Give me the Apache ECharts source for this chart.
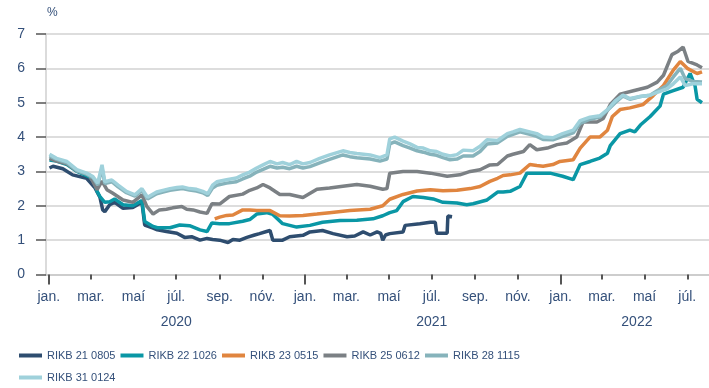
<!DOCTYPE html>
<html>
<head>
<meta charset="utf-8">
<script src="https://cdn.jsdelivr.net/npm/echarts@6/dist/echarts.min.js"></script>
<style>
  html, body { margin: 0; padding: 0; background: #fff; }
  #chart { width: 709px; height: 388px; }
</style>
</head>
<body>
<div id="chart"></div>
<script>
// Ávöxtunarkrafa óverðtryggðra ríkisbréfa (%), jan. 2020 – júl. 2022
const seriesNames = ['RIKB 21 0805', 'RIKB 22 1026', 'RIKB 23 0515', 'RIKB 25 0612', 'RIKB 28 1115', 'RIKB 31 0124'];
const seriesColors = ['#2e4d6f', '#0a97a5', '#e0853f', '#7b8084', '#86b3bb', '#9fd1db'];

const rikb21 = [
  ['2020-01-02', 3.1], ['2020-01-07', 3.15], ['2020-01-21', 3.08], ['2020-02-04', 2.9], ['2020-02-24', 2.8],
  ['2020-03-07', 2.52], ['2020-03-14', 2.25], ['2020-03-18', 1.88], ['2020-03-21', 1.83], ['2020-03-28', 2.03],
  ['2020-04-04', 2.1], ['2020-04-16', 1.93], ['2020-04-30', 1.95], ['2020-05-13', 2.1], ['2020-05-17', 1.44],
  ['2020-05-29', 1.35], ['2020-06-04', 1.3], ['2020-06-17', 1.25], ['2020-07-02', 1.2], ['2020-07-13', 1.08],
  ['2020-07-23', 1.1], ['2020-08-04', 1.0], ['2020-08-14', 1.05], ['2020-08-22', 1.02], ['2020-09-01', 1.0],
  ['2020-09-13', 0.93], ['2020-09-20', 1.02], ['2020-09-30', 1.0], ['2020-10-10', 1.08], ['2020-10-21', 1.15],
  ['2020-10-28', 1.19], ['2020-11-07', 1.25], ['2020-11-12', 1.28], ['2020-11-16', 1.0], ['2020-11-30', 1.0],
  ['2020-12-10', 1.1], ['2020-12-29', 1.14], ['2021-01-08', 1.24], ['2021-01-26', 1.28], ['2021-02-10', 1.19],
  ['2021-03-02', 1.1], ['2021-03-13', 1.12], ['2021-03-25', 1.24], ['2021-04-04', 1.15], ['2021-04-14', 1.24],
  ['2021-04-19', 1.2], ['2021-04-22', 1.0], ['2021-04-26', 1.15], ['2021-05-02', 1.19], ['2021-05-21', 1.24],
  ['2021-05-24', 1.43], ['2021-06-14', 1.48], ['2021-06-29', 1.52], ['2021-07-06', 1.52], ['2021-07-08', 1.2],
  ['2021-07-23', 1.2], ['2021-07-24', 1.7], ['2021-07-30', 1.68]
];

const rikb22 = [
  ['2020-01-02', 3.33], ['2020-01-12', 3.3], ['2020-01-27', 3.2], ['2020-02-10', 3.0], ['2020-02-24', 2.88],
  ['2020-03-04', 2.8], ['2020-03-10', 2.42], ['2020-03-14', 2.27], ['2020-03-21', 2.1], ['2020-03-28', 2.12],
  ['2020-04-04', 2.2], ['2020-04-16', 2.03], ['2020-04-30', 2.0], ['2020-05-13', 2.15], ['2020-05-17', 1.54],
  ['2020-05-29', 1.4], ['2020-06-04', 1.36], ['2020-06-22', 1.36], ['2020-07-06', 1.44], ['2020-07-20', 1.42],
  ['2020-08-04', 1.3], ['2020-08-14', 1.25], ['2020-08-21', 1.5], ['2020-09-01', 1.48], ['2020-09-15', 1.48],
  ['2020-10-04', 1.55], ['2020-10-14', 1.6], ['2020-10-24', 1.76], ['2020-11-07', 1.8], ['2020-11-16', 1.75],
  ['2020-11-30', 1.48], ['2020-12-20', 1.38], ['2021-01-08', 1.43], ['2021-01-26', 1.52], ['2021-02-20', 1.57],
  ['2021-03-16', 1.58], ['2021-04-08', 1.62], ['2021-04-22', 1.71], ['2021-05-02', 1.8], ['2021-05-12', 1.86],
  ['2021-05-21', 2.12], ['2021-06-04', 2.27], ['2021-06-19', 2.24], ['2021-07-03', 2.2], ['2021-07-17', 2.1],
  ['2021-08-06', 2.08], ['2021-08-20', 2.03], ['2021-08-29', 2.06], ['2021-09-18', 2.17], ['2021-10-03', 2.4],
  ['2021-10-11', 2.4], ['2021-10-21', 2.42], ['2021-11-04', 2.56], ['2021-11-14', 2.95], ['2021-11-28', 2.95],
  ['2021-12-17', 2.95], ['2022-01-04', 2.86], ['2022-01-19', 2.76], ['2022-01-29', 3.2], ['2022-02-12', 3.29],
  ['2022-02-26', 3.39], ['2022-03-09', 3.53], ['2022-03-13', 3.75], ['2022-03-27', 4.1], ['2022-04-10', 4.2],
  ['2022-04-17', 4.15], ['2022-04-25', 4.35], ['2022-05-09', 4.6], ['2022-05-23', 4.9], ['2022-05-28', 5.25],
  ['2022-06-11', 5.35], ['2022-06-25', 5.45], ['2022-07-05', 5.85], ['2022-07-12', 5.5], ['2022-07-15', 5.1],
  ['2022-07-22', 5.0]
];

const rikb23 = [
  ['2020-08-25', 1.62], ['2020-09-01', 1.67], ['2020-09-11', 1.72], ['2020-09-20', 1.73], ['2020-10-04', 1.88],
  ['2020-10-14', 1.88], ['2020-10-24', 1.86], ['2020-11-02', 1.86], ['2020-11-12', 1.86], ['2020-11-26', 1.71],
  ['2020-12-10', 1.7], ['2020-12-29', 1.72], ['2021-01-18', 1.76], ['2021-02-05', 1.8], ['2021-03-06', 1.86],
  ['2021-04-04', 1.9], ['2021-04-22', 2.0], ['2021-05-02', 2.19], ['2021-05-21', 2.33], ['2021-06-10', 2.43],
  ['2021-06-29', 2.47], ['2021-07-17', 2.44], ['2021-08-06', 2.45], ['2021-08-25', 2.5], ['2021-09-08', 2.56],
  ['2021-09-22', 2.71], ['2021-10-03', 2.8], ['2021-10-11', 2.88], ['2021-10-21', 2.9], ['2021-11-04', 2.95],
  ['2021-11-18', 3.2], ['2021-11-28', 3.17], ['2021-12-07', 3.15], ['2021-12-21', 3.2], ['2021-12-31', 3.29],
  ['2022-01-19', 3.34], ['2022-01-29', 3.68], ['2022-02-12', 4.0], ['2022-02-26', 4.0], ['2022-03-09', 4.2],
  ['2022-03-16', 4.6], ['2022-03-27', 4.8], ['2022-04-10', 4.85], ['2022-04-29', 4.95], ['2022-05-13', 5.2],
  ['2022-05-28', 5.5], ['2022-06-11', 5.95], ['2022-06-21', 6.2], ['2022-07-01', 6.0], ['2022-07-15', 5.85],
  ['2022-07-22', 5.9]
];

const rikb25 = [
  ['2020-01-02', 3.38], ['2020-01-12', 3.3], ['2020-01-27', 3.22], ['2020-02-10', 3.02], ['2020-02-24', 2.92],
  ['2020-02-28', 2.9], ['2020-03-10', 2.47], ['2020-03-17', 2.72], ['2020-03-24', 2.47], ['2020-04-01', 2.37],
  ['2020-04-16', 2.17], ['2020-04-30', 2.1], ['2020-05-13', 2.32], ['2020-05-20', 1.98], ['2020-05-29', 1.76],
  ['2020-06-07', 1.88], ['2020-06-17', 1.9], ['2020-06-26', 1.94], ['2020-07-09', 1.98], ['2020-07-16', 1.9],
  ['2020-07-25', 1.88], ['2020-08-04', 1.82], ['2020-08-14', 1.78], ['2020-08-21', 2.06], ['2020-09-01', 2.05],
  ['2020-09-15', 2.27], ['2020-10-04', 2.34], ['2020-10-14', 2.45], ['2020-10-24', 2.52], ['2020-11-02', 2.62],
  ['2020-11-12', 2.52], ['2020-11-26', 2.33], ['2020-12-10', 2.33], ['2020-12-29', 2.24], ['2021-01-18', 2.48],
  ['2021-02-05', 2.52], ['2021-02-24', 2.57], ['2021-03-16', 2.62], ['2021-04-04', 2.57], ['2021-04-22', 2.48],
  ['2021-04-28', 2.5], ['2021-05-02', 2.95], ['2021-05-21', 3.0], ['2021-06-10', 3.0], ['2021-06-29', 2.95],
  ['2021-07-23', 2.86], ['2021-08-10', 2.9], ['2021-08-25', 3.0], ['2021-09-08', 3.05], ['2021-09-22', 3.19],
  ['2021-10-03', 3.2], ['2021-10-17', 3.45], ['2021-10-25', 3.5], ['2021-11-09', 3.58], ['2021-11-18', 3.78],
  ['2021-11-28', 3.63], ['2021-12-13', 3.68], ['2021-12-27', 3.78], ['2022-01-10', 3.83], ['2022-01-24', 4.0],
  ['2022-02-02', 4.44], ['2022-02-22', 4.44], ['2022-03-03', 4.54], ['2022-03-13', 4.95], ['2022-03-27', 5.25],
  ['2022-04-15', 5.35], ['2022-05-05', 5.45], ['2022-05-19', 5.6], ['2022-05-28', 5.8], ['2022-06-09', 6.4],
  ['2022-06-18', 6.5], ['2022-06-25', 6.62], ['2022-07-02', 6.2], ['2022-07-15', 6.1], ['2022-07-22', 6.02]
];

const rikb28 = [
  ['2020-01-02', 3.45], ['2020-01-12', 3.35], ['2020-01-27', 3.25], ['2020-02-10', 3.02], ['2020-02-24', 2.92],
  ['2020-03-04', 2.82], ['2020-03-11', 2.6], ['2020-03-17', 3.1], ['2020-03-21', 2.65], ['2020-03-31', 2.7],
  ['2020-04-09', 2.55], ['2020-04-21', 2.38], ['2020-05-03', 2.28], ['2020-05-13', 2.45], ['2020-05-21', 2.2],
  ['2020-06-03', 2.35], ['2020-06-12', 2.4], ['2020-06-22', 2.45], ['2020-07-02', 2.48], ['2020-07-10', 2.5],
  ['2020-07-20', 2.46], ['2020-07-30', 2.43], ['2020-08-08', 2.38], ['2020-08-15', 2.3], ['2020-08-22', 2.52],
  ['2020-08-28', 2.6], ['2020-09-11', 2.66], ['2020-09-25', 2.7], ['2020-10-04', 2.78], ['2020-10-14', 2.86],
  ['2020-10-24', 2.98], ['2020-11-02', 3.06], ['2020-11-12', 3.15], ['2020-11-22', 3.1], ['2020-11-30', 3.12],
  ['2020-12-10', 3.08], ['2020-12-20', 3.15], ['2020-12-29', 3.1], ['2021-01-08', 3.14], ['2021-01-22', 3.25],
  ['2021-02-05', 3.35], ['2021-02-24', 3.48], ['2021-03-06', 3.43], ['2021-03-16', 3.4], ['2021-04-04', 3.36],
  ['2021-04-18', 3.3], ['2021-04-28', 3.36], ['2021-05-02', 3.8], ['2021-05-09', 3.86], ['2021-05-21', 3.75],
  ['2021-05-31', 3.68], ['2021-06-10', 3.6], ['2021-06-19', 3.56], ['2021-06-29', 3.5], ['2021-07-08', 3.47],
  ['2021-07-17', 3.4], ['2021-07-27', 3.34], ['2021-08-06', 3.36], ['2021-08-15', 3.45], ['2021-08-29', 3.45],
  ['2021-09-08', 3.58], ['2021-09-18', 3.8], ['2021-10-03', 3.83], ['2021-10-17', 4.02], ['2021-10-25', 4.08],
  ['2021-11-04', 4.15], ['2021-11-18', 4.08], ['2021-11-28', 4.02], ['2021-12-07', 3.93], ['2021-12-21', 3.92],
  ['2022-01-04', 4.02], ['2022-01-19', 4.12], ['2022-01-29', 4.4], ['2022-02-12', 4.52], ['2022-02-26', 4.58],
  ['2022-03-09', 4.78], ['2022-03-20', 5.0], ['2022-03-31', 5.2], ['2022-04-10', 5.1], ['2022-04-25', 5.18],
  ['2022-05-09', 5.22], ['2022-05-19', 5.35], ['2022-06-02', 5.5], ['2022-06-11', 5.75], ['2022-06-21', 6.0],
  ['2022-06-28', 5.7], ['2022-07-09', 5.62], ['2022-07-22', 5.6]
];

const rikb31 = [
  ['2020-01-02', 3.5], ['2020-01-12', 3.38], ['2020-01-27', 3.29], ['2020-02-10', 3.05], ['2020-02-24', 2.95],
  ['2020-03-04', 2.85], ['2020-03-11', 2.66], ['2020-03-17', 3.19], ['2020-03-21', 2.7], ['2020-03-31', 2.75],
  ['2020-04-09', 2.6], ['2020-04-21', 2.42], ['2020-05-03', 2.32], ['2020-05-13', 2.5], ['2020-05-21', 2.25],
  ['2020-06-03', 2.4], ['2020-06-12', 2.45], ['2020-06-22', 2.5], ['2020-07-02', 2.53], ['2020-07-10', 2.55],
  ['2020-07-20', 2.5], ['2020-07-30', 2.48], ['2020-08-08', 2.42], ['2020-08-15', 2.35], ['2020-08-22', 2.6],
  ['2020-08-28', 2.7], ['2020-09-11', 2.76], ['2020-09-25', 2.81], ['2020-10-04', 2.9], ['2020-10-14', 2.98],
  ['2020-10-24', 3.1], ['2020-11-02', 3.19], ['2020-11-12', 3.29], ['2020-11-22', 3.22], ['2020-11-30', 3.26],
  ['2020-12-10', 3.2], ['2020-12-20', 3.29], ['2020-12-29', 3.22], ['2021-01-08', 3.26], ['2021-01-22', 3.38],
  ['2021-02-05', 3.48], ['2021-02-24', 3.6], ['2021-03-06', 3.55], ['2021-03-16', 3.52], ['2021-04-04', 3.48],
  ['2021-04-18', 3.4], ['2021-04-28', 3.48], ['2021-05-02', 3.95], ['2021-05-09', 4.0], ['2021-05-21', 3.88],
  ['2021-05-31', 3.8], ['2021-06-10', 3.7], ['2021-06-19', 3.68], ['2021-06-29', 3.6], ['2021-07-08', 3.58],
  ['2021-07-17', 3.5], ['2021-07-27', 3.45], ['2021-08-06', 3.49], ['2021-08-15', 3.62], ['2021-08-29', 3.6],
  ['2021-09-08', 3.73], ['2021-09-18', 3.92], ['2021-10-03', 3.9], ['2021-10-17', 4.1], ['2021-10-25', 4.15],
  ['2021-11-04', 4.22], ['2021-11-18', 4.15], ['2021-11-28', 4.1], ['2021-12-07', 4.0], ['2021-12-21', 3.98],
  ['2022-01-04', 4.1], ['2022-01-19', 4.2], ['2022-01-29', 4.48], ['2022-02-12', 4.58], ['2022-02-26', 4.62],
  ['2022-03-09', 4.8], ['2022-03-20', 5.05], ['2022-03-31', 5.22], ['2022-04-10', 5.12], ['2022-04-25', 5.18],
  ['2022-05-09', 5.22], ['2022-05-19', 5.3], ['2022-06-02', 5.4], ['2022-06-11', 5.55], ['2022-06-21', 5.75],
  ['2022-06-28', 5.5], ['2022-07-09', 5.55], ['2022-07-22', 5.55]
];

const seriesData = [rikb21, rikb22, rikb23, rikb25, rikb28, rikb31];

// Month ticks every two months, with Icelandic labels
const monthTickDates = [
  '2020-01-01', '2020-03-01', '2020-05-01', '2020-07-01', '2020-09-01', '2020-11-01',
  '2021-01-01', '2021-03-01', '2021-05-01', '2021-07-01', '2021-09-01', '2021-11-01',
  '2022-01-01', '2022-03-01', '2022-05-01', '2022-07-01'
];
const monthTickLabels = [
  'jan.', 'mar.', 'maí', 'júl.', 'sep.', 'nóv.',
  'jan.', 'mar.', 'maí', 'júl.', 'sep.', 'nóv.',
  'jan.', 'mar.', 'maí', 'júl.'
];
const yearLabels = ['2020', '2021', '2022'];
const yearLabelDates = ['2020-07-01', '2021-07-01', '2022-04-20'];
const yTicks = [0, 1, 2, 3, 4, 5, 6, 7];

const ts = s => new Date(s + 'T00:00:00').getTime();
const xMin = ts('2019-12-28');
const xMax = ts('2022-08-01');

const monthTs = monthTickDates.map(ts);
const janTs = monthTs.filter((t, i) => monthTickLabels[i] === 'jan.');
const otherTs = monthTs.filter((t, i) => monthTickLabels[i] !== 'jan.');
const yearTs = yearLabelDates.map(ts);

const textColor = '#34507a';
const labelFont = "'Liberation Sans', Arial, sans-serif";

const chart = echarts.init(document.getElementById('chart'), null, { renderer: 'canvas' });

chart.setOption({
  animation: false,
  backgroundColor: '#ffffff',
  grid: { left: 46, right: 0, top: 34, bottom: 113.5, containLabel: false },
  graphic: [{
    type: 'text', left: 47, top: 7,
    style: { text: '%', fill: textColor, font: "12px 'Liberation Sans', Arial, sans-serif" }
  }],
  legend: {
    data: seriesNames,
    left: 14, top: 342, width: 520,
    itemWidth: 23, itemHeight: 4, itemGap: 5,
    icon: 'rect',
    textStyle: { color: textColor, fontSize: 11, lineHeight: 17, fontFamily: labelFont },
    selectedMode: false
  },
  xAxis: [{
    type: 'value', min: xMin, max: xMax,
    axisLine: { show: true, onZero: false, lineStyle: { color: '#c8c8c8', width: 1.5 } },
    axisTick: { show: true, customValues: otherTs, length: 5, lineStyle: { color: '#555', width: 2 } },
    axisLabel: {
      show: true, customValues: monthTs, margin: 16,
      color: textColor, fontSize: 14, fontFamily: labelFont,
      formatter: v => monthTickLabels[monthTs.indexOf(v)] || ''
    },
    splitLine: { show: false }
  }, {
    type: 'value', min: xMin, max: xMax, position: 'bottom',
    axisLine: { show: false, onZero: false },
    axisTick: { show: true, customValues: janTs, length: 10, lineStyle: { color: '#555', width: 2 } },
    axisLabel: {
      show: true, customValues: yearTs, margin: 41,
      color: textColor, fontSize: 14, fontFamily: labelFont,
      formatter: v => yearLabels[yearTs.indexOf(v)] || ''
    },
    splitLine: { show: false }
  }],
  yAxis: {
    type: 'value', min: yTicks[0], max: yTicks[yTicks.length - 1], interval: 1,
    axisLine: { show: true, lineStyle: { color: '#cfcfcf', width: 1.5 } },
    axisTick: { show: true, length: 10, lineStyle: { color: '#555', width: 1.5 } },
    axisLabel: { color: textColor, fontSize: 14, margin: 21, fontFamily: labelFont },
    splitLine: { show: true, lineStyle: { color: '#d2d2d2', width: 1.5 } }
  },
  series: seriesNames.map((name, i) => ({
    name,
    type: 'line',
    xAxisIndex: 0,
    data: seriesData[i].map(p => [ts(p[0]), p[1]]),
    showSymbol: false,
    symbol: 'none',
    lineStyle: { width: 3.5, color: seriesColors[i] },
    itemStyle: { color: seriesColors[i] },
    emphasis: { disabled: true },
    z: 2 + i
  }))
});
</script>
</body>
</html>
